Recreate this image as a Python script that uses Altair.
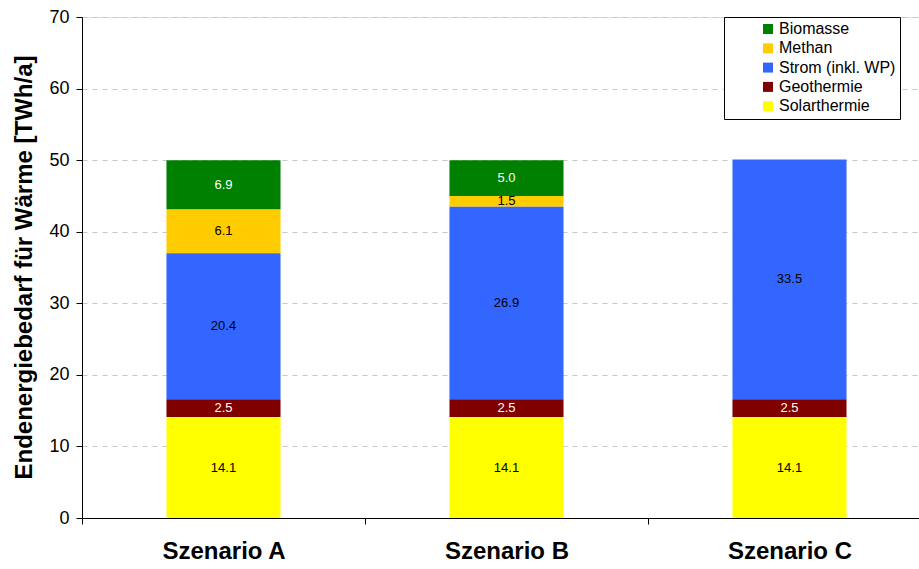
import altair as alt
import pandas as pd

# Scenarios and heat-supply categories (legend order, top to bottom)
scenarios = ["Szenario A", "Szenario B", "Szenario C"]
series = ["Biomasse", "Methan", "Strom (inkl. WP)", "Geothermie", "Solarthermie"]
colors = ["#008000", "#FFCC00", "#3366FF", "#800000", "#FFFF00"]
label_colors = ["#FFFFFF", "#000000", "#000000", "#FFFFFF", "#000000"]

# Final energy demand for heat per scenario [TWh/a]
biomasse = [6.9, 5.0, 0.0]
methan = [6.1, 1.5, 0.0]
strom = [20.4, 26.9, 33.5]
geothermie = [2.5, 2.5, 2.5]
solarthermie = [14.1, 14.1, 14.1]

y_ticks = [0, 10, 20, 30, 40, 50, 60, 70]

values_by_series = [biomasse, methan, strom, geothermie, solarthermie]
rows = []
for k, (name, vals) in enumerate(zip(series, values_by_series)):
    for s, v in zip(scenarios, vals):
        rows.append({
            "scenario": s,
            "series": name,
            "value": v,
            "stack_order": len(series) - k,  # Solarthermie at the bottom
            "label_color": label_colors[k],
        })
df = pd.DataFrame(rows)

FONT = "Liberation Sans"

base = alt.Chart(df).transform_stack(
    stack="value",
    groupby=["scenario"],
    sort=[alt.SortField("stack_order", order="ascending")],
    as_=["y0", "y1"],
).transform_calculate(mid="(datum.y0 + datum.y1) / 2")

# The category axis runs a little past the right edge of the page
x_scale = alt.Scale(paddingInner=0, paddingOuter=0, range=[0, 849])

x_enc = alt.X(
    "scenario:N",
    sort=scenarios,
    scale=x_scale,
    axis=alt.Axis(
        title=None,
        labelAngle=0,
        labelFont=FONT,
        labelFontSize=24,
        labelFontWeight="bold",
        labelColor="#000000",
        labelPadding=15,
        tickBand="extent",
        tickSize=6,
        tickColor="#000000",
        domainColor="#000000",
        grid=False,
    ),
)

bars = base.mark_bar(width=alt.RelativeBandSize(0.403)).encode(
    x=x_enc,
    y=alt.Y(
        "y0:Q",
        scale=alt.Scale(domain=[0, 70], nice=False),
        axis=alt.Axis(
            title="Endenergiebedarf für Wärme [TWh/a]",
            titleFont=FONT,
            titleFontSize=24,
            titleFontWeight="bold",
            titleColor="#000000",
            titleX=-58,
            titleY=250,
            titleBaseline="middle",
            values=y_ticks,
            labelFont=FONT,
            labelFontSize=18,
            labelColor="#000000",
            labelPadding=7,
            tickSize=6,
            tickColor="#000000",
            domainColor="#000000",
            grid=True,
            gridColor="#C8C8C8",
            gridDash=[5, 5],
        ),
    ),
    y2="y1:Q",
    color=alt.Color(
        "series:N",
        scale=alt.Scale(domain=series, range=colors),
        sort=series,
        legend=alt.Legend(
            title=None,
            orient="none",
            legendX=642,
            legendY=0,
            labelFont=FONT,
            labelFontSize=16,
            labelColor="#000000",
            labelExpr="datum.label + '\u00a0\u00a0\u00a0\u00a0\u00a0'",
            labelOffset=3,
            symbolType="square",
            symbolSize=100,
            symbolStrokeWidth=0,
            symbolOffset=32,
            rowPadding=3.3,
            padding=4,
            strokeColor="#000000",
            fillColor="#FFFFFF",
        ),
    ),
)

labels = base.transform_filter("datum.value > 0").mark_text(
    font=FONT, fontSize=13
).encode(
    x=alt.X("scenario:N", sort=scenarios, scale=x_scale),
    y=alt.Y("mid:Q"),
    text=alt.Text("value:Q", format=".1f"),
    fill=alt.Fill("label_color:N", scale=None),
)

chart = alt.layer(bars, labels).properties(
    width=837,
    height=501,
    autosize="none",
    padding={"left": 82, "top": 17, "right": 0, "bottom": 51},
).configure_view(stroke="#707070", strokeWidth=1).configure(
    background="#FFFFFF"
)

chart.save("out.html", embed_options={"renderer": "svg", "actions": False})
